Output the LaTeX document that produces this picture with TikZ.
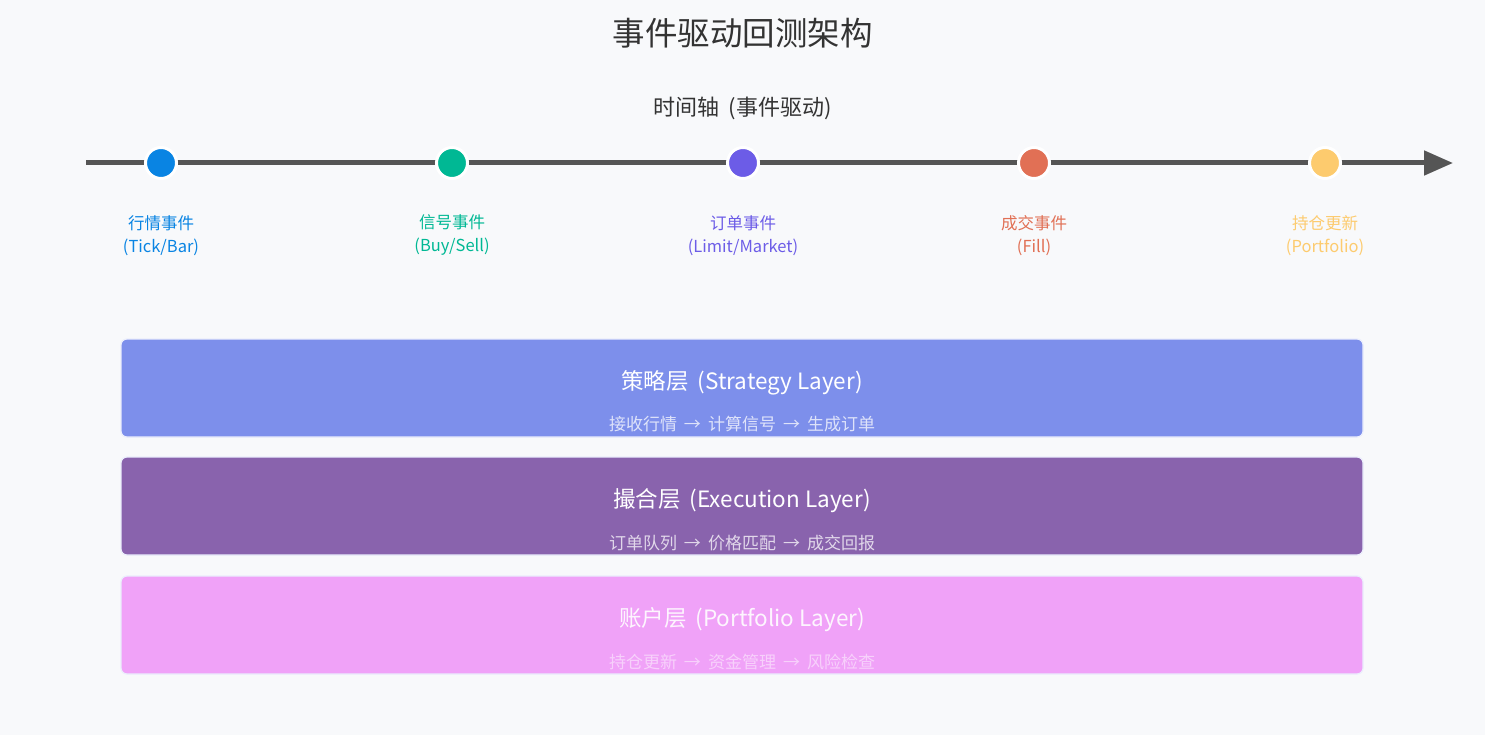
\documentclass[tikz,border=0pt]{standalone}
\usepackage{fontspec}
\setmainfont{Noto Sans CJK SC}
\usetikzlibrary{arrows.meta}
\definecolor{bg}{HTML}{F8F9FB}
\definecolor{axisc}{HTML}{555555}
\definecolor{ctitle}{HTML}{333333}
\definecolor{cblue}{HTML}{0984E3}
\definecolor{cgreen}{HTML}{00B894}
\definecolor{cpurple}{HTML}{6C5CE7}
\definecolor{corange}{HTML}{E17055}
\definecolor{cyellow}{HTML}{FDCB6E}
\definecolor{lay1}{HTML}{7D8FEB}
\definecolor{lay2}{HTML}{8963AD}
\definecolor{lay3}{HTML}{F0A2F8}
\newcommand{\arr}{\hspace{7pt}→\hspace{7pt}}
\newcommand{\gap}{\hspace{9pt}}
\tikzset{
  axisline/.style={draw=axisc, line width=5pt, -{Triangle[length=29pt,width=24pt]}},
  evdot/.style={circle, fill=#1, draw=white, line width=3pt, minimum size=31pt, inner sep=0pt},
  evlabel/.style={text=#1, font=\fontsize{16.5}{23}\selectfont, align=center},
  layerbox/.style={draw=white!85!lay1, line width=1.2pt, rounded corners=6pt, fill=#1, minimum width=1242pt, minimum height=98pt, inner sep=0pt},
  laytitle/.style={text=white, font=\fontsize{22.5}{26}\selectfont},
  laysub/.style={text=white, text opacity=#1, font=\fontsize{17}{20}\selectfont},
}
\begin{document}
\begin{tikzpicture}[x=1pt,y=-1pt]
\fill[bg] (0,0) rectangle (1485,735);
\useasboundingbox (0,0) rectangle (1485,735);
\node[text=ctitle, font=\fontsize{32.5}{38}\selectfont] (title) at (742.5,33) {事件驱动回测架构};
\node[text=ctitle, font=\fontsize{22}{26}\selectfont] (sub) at (742.5,108) {时间轴\gap{}(事件驱动)};
\coordinate (start) at (86,163);
\coordinate (end) at (1453,163);
\draw[axisline] (start) -- (end);
\node[evdot=cblue] (e1) at (161,163) {};
\node[evdot=cgreen] (e2) at (452,163) {};
\node[evdot=cpurple] (e3) at (743,163) {};
\node[evdot=corange] (e4) at (1034,163) {};
\node[evdot=cyellow] (e5) at (1325,163) {};
\node[evlabel=cblue] (l1) at (161,235.5) {行情事件\\(Tick/Bar)};
\node[evlabel=cgreen] (l2) at (452,235.5) {信号事件\\(Buy/Sell)};
\node[evlabel=cpurple] (l3) at (743,235.5) {订单事件\\(Limit/Market)};
\node[evlabel=corange] (l4) at (1034,235.5) {成交事件\\(Fill)};
\node[evlabel=cyellow] (l5) at (1325,235.5) {持仓更新\\(Portfolio)};
\node[layerbox=lay1] (b1) at (742,388) {};
\node[layerbox=lay2] (b2) at (742,506) {};
\node[layerbox=lay3] (b3) at (742,625) {};
\node[laytitle] (t1) at (742,383) {策略层\gap{}(Strategy Layer)};
\node[laysub=0.75] (s1) at (742,424) {接收行情\arr{}计算信号\arr{}生成订单};
\node[laytitle] (t2) at (742,501) {撮合层\gap{}(Execution Layer)};
\node[laysub=0.75] (s2) at (742,543) {订单队列\arr{}价格匹配\arr{}成交回报};
\node[laytitle, text opacity=0.9] (t3) at (742,620) {账户层\gap{}(Portfolio Layer)};
\node[laysub=0.5] (s3) at (742,662) {持仓更新\arr{}资金管理\arr{}风险检查};
\end{tikzpicture}
\end{document}
